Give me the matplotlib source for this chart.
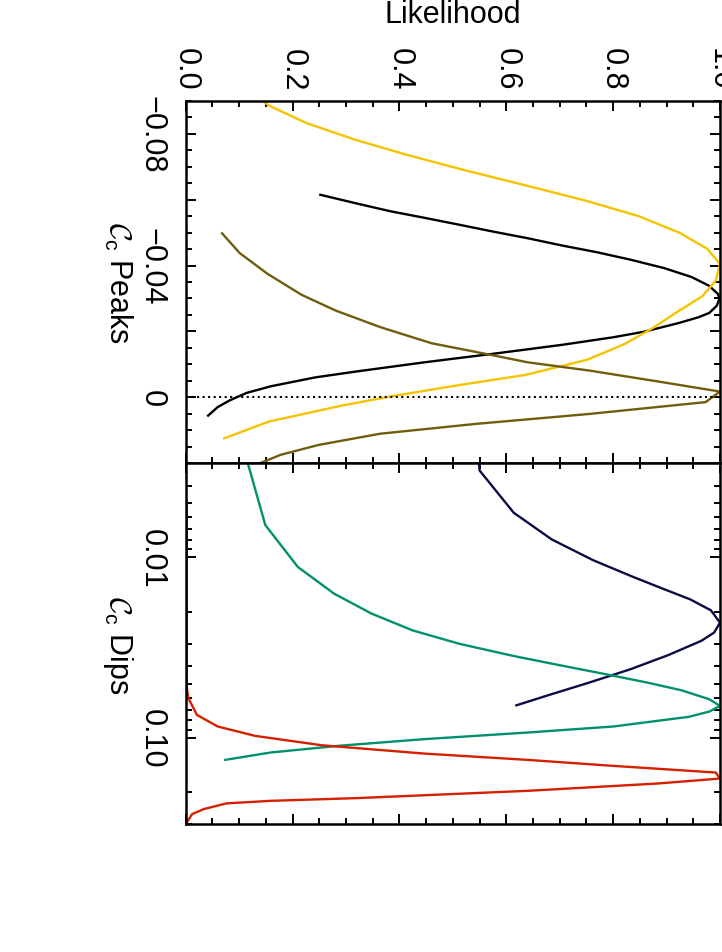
import numpy as np
import matplotlib
matplotlib.use("Agg")
import matplotlib.pyplot as plt
from matplotlib.ticker import MultipleLocator, FixedLocator, LogLocator, NullFormatter

plt.rcParams['font.family'] = ['Liberation Sans', 'DejaVu Sans']
plt.rcParams['mathtext.fontset'] = 'custom'
plt.rcParams['mathtext.rm'] = 'Liberation Sans'
plt.rcParams['mathtext.cal'] = 'cmsy10'

# --- Peaks panel: likelihood vs C_c (linear) ---
peak_yellow_L = [0.143, 0.156, 0.226, 0.316, 0.415, 0.524, 0.633, 0.749, 0.848, 0.925,
                 0.976, 1.000, 0.992, 0.967, 0.919, 0.874, 0.822, 0.752, 0.637, 0.505,
                 0.383, 0.294, 0.156, 0.072]
peak_yellow_c = [-0.0901, -0.0886, -0.0833, -0.0783, -0.0736, -0.0689, -0.0645, -0.0597,
                 -0.0550, -0.0499, -0.0451, -0.0405, -0.0354, -0.0307, -0.0258, -0.0210,
                 -0.0162, -0.0114, -0.0068, -0.0035, -0.0002, 0.0025, 0.0074, 0.0125]

peak_black_L = [0.252, 0.319, 0.383, 0.447, 0.512, 0.576, 0.640, 0.704, 0.768, 0.832,
                0.896, 0.947, 0.979, 0.996, 0.999, 0.994, 0.980, 0.960, 0.922, 0.858,
                0.800, 0.704, 0.576, 0.447, 0.319, 0.242, 0.159, 0.114, 0.082, 0.060, 0.042]
peak_black_c = [-0.0615, -0.0589, -0.0565, -0.0545, -0.0524, -0.0503, -0.0483, -0.0461,
                -0.0441, -0.0418, -0.0392, -0.0365, -0.0339, -0.0314, -0.0299, -0.0278,
                -0.0256, -0.0243, -0.0225, -0.0199, -0.0182, -0.0159, -0.0132, -0.0106,
                -0.0078, -0.0060, -0.0033, -0.0013, 0.0010, 0.0030, 0.0056]

peak_olive_L = [0.068, 0.101, 0.153, 0.217, 0.281, 0.364, 0.460, 0.576, 0.640, 0.755,
                0.883, 1.000, 0.973, 0.755, 0.544, 0.364, 0.249, 0.178, 0.140]
peak_olive_c = [-0.0498, -0.0438, -0.0375, -0.0311, -0.0263, -0.0213, -0.0164, -0.0127,
                -0.0106, -0.0081, -0.0048, -0.0017, 0.0015, 0.0051, 0.0081, 0.0111,
                0.0145, 0.0175, 0.0200]

# --- Dips panel: likelihood vs C_c (log) ---
dip_navy_L = [0.549, 0.550, 0.614, 0.685, 0.762, 0.838, 0.896, 0.944, 0.983, 1.000,
              0.989, 0.965, 0.903, 0.832, 0.755, 0.678, 0.619]
dip_navy_c = [0.00299, 0.0033, 0.00566, 0.00795, 0.01035, 0.01285, 0.01503, 0.01707,
              0.01965, 0.0230, 0.0261, 0.0290, 0.0348, 0.0417, 0.0494, 0.0581, 0.0660]

dip_green_L = [0.116, 0.149, 0.210, 0.278, 0.348, 0.425, 0.512, 0.614, 0.691, 0.793,
               0.864, 0.928, 0.980, 1.000, 0.980, 0.941, 0.800, 0.640, 0.447, 0.287,
               0.159, 0.074]
dip_green_c = [0.00299, 0.00662, 0.01131, 0.0159, 0.0205, 0.0254, 0.0301, 0.0352, 0.0391,
               0.0448, 0.0494, 0.0545, 0.0611, 0.0665, 0.0715, 0.0765, 0.0865, 0.0934,
               0.1016, 0.1106, 0.1205, 0.1324]

dip_red_L = [0.002, 0.002, 0.005, 0.021, 0.060, 0.130, 0.255, 0.447, 0.640, 0.800, 0.992,
             1.000, 0.883, 0.640, 0.319, 0.159, 0.076, 0.034, 0.012, 0.002]
dip_red_c = [0.00488, 0.0527, 0.0603, 0.0746, 0.0865, 0.0975, 0.1099, 0.1222, 0.1324,
             0.1429, 0.1556, 0.168, 0.179, 0.1965, 0.2157, 0.2232, 0.2307, 0.248, 0.2644,
             0.294]

lik_ticks = [0.0, 0.2, 0.4, 0.6, 0.8, 1.0]
lik_labels = ['0.0', '0.2', '0.4', '0.6', '0.8', '1.0']
peak_ticks = [-0.08, -0.06, -0.04, -0.02, 0.0]
peak_labels = ['\u22120.08', '', '\u22120.04', '', '0']
dip_ticks = [0.01, 0.1]
dip_labels = ['0.01', '0.10']

W, H = 722, 953
fig = plt.figure(figsize=(W / 100, H / 100), dpi=100)
left = 185.7 / W
width = (720 - 185.7) / W
ax1 = fig.add_axes([left, 1 - 464 / H, width, (464 - 102) / H])
ax2 = fig.add_axes([left, 1 - 825 / H, width, (825 - 464) / H])

lw = 1.7
ax1.plot(peak_black_L, peak_black_c, color='black', lw=lw)
ax1.plot(peak_yellow_L, peak_yellow_c, color='#F5C300', lw=lw)
ax1.plot(peak_olive_L, peak_olive_c, color='#6E5E0C', lw=lw)
ax1.axhline(0, color='black', ls=':', lw=1.5)

ax2.plot(dip_navy_L, dip_navy_c, color='#0B0B45', lw=lw)
ax2.plot(dip_green_L, dip_green_c, color='#00906C', lw=lw)
ax2.plot(dip_red_L, dip_red_c, color='#D42000', lw=lw)

ax1.set_ylim(0.02, -0.09)
ax1.set_yticks(peak_ticks)
ax1.set_yticklabels(peak_labels)
ax1.yaxis.set_minor_locator(MultipleLocator(0.005))

ax2.set_yscale('log')
ax2.set_ylim(0.3, 0.003)
ax2.yaxis.set_major_locator(FixedLocator(dip_ticks))
ax2.set_yticklabels(dip_labels)
ax2.yaxis.set_minor_locator(LogLocator(base=10, subs=np.arange(2, 10)))
ax2.yaxis.set_minor_formatter(NullFormatter())

for ax in (ax1, ax2):
    ax.set_xlim(0, 1)
    ax.set_xticks(lik_ticks)
    ax.xaxis.set_minor_locator(MultipleLocator(0.05))
    ax.tick_params(which='both', direction='in', top=True, bottom=True,
                   left=True, right=True, width=1.4, labelsize=22)
    ax.tick_params(which='major', length=7.5)
    ax.tick_params(which='minor', length=4)
    ax.tick_params(axis='y', pad=14, labelrotation=270)
    for s in ax.spines.values():
        s.set_linewidth(1.8)

ax1.set_xticklabels(lik_labels)
ax1.tick_params(axis='x', labeltop=True, labelbottom=False, pad=8, labelrotation=270)
ax2.tick_params(axis='x', labeltop=False, labelbottom=False)
for t in ax1.get_yticklabels() + ax2.get_yticklabels():
    t.set_verticalalignment('center')

fig.text(453 / W, 1 - 15 / H, 'Likelihood', ha='center', va='center', fontsize=22)
fig.text(118 / W, 1 - 283 / H, r'$\mathcal{C}_\mathrm{c}$ Peaks', rotation=270,
         ha='center', va='center', fontsize=22)
fig.text(118 / W, 1 - 645 / H, r'$\mathcal{C}_\mathrm{c}$ Dips', rotation=270,
         ha='center', va='center', fontsize=22)

fig.savefig('out.png', dpi=100)
